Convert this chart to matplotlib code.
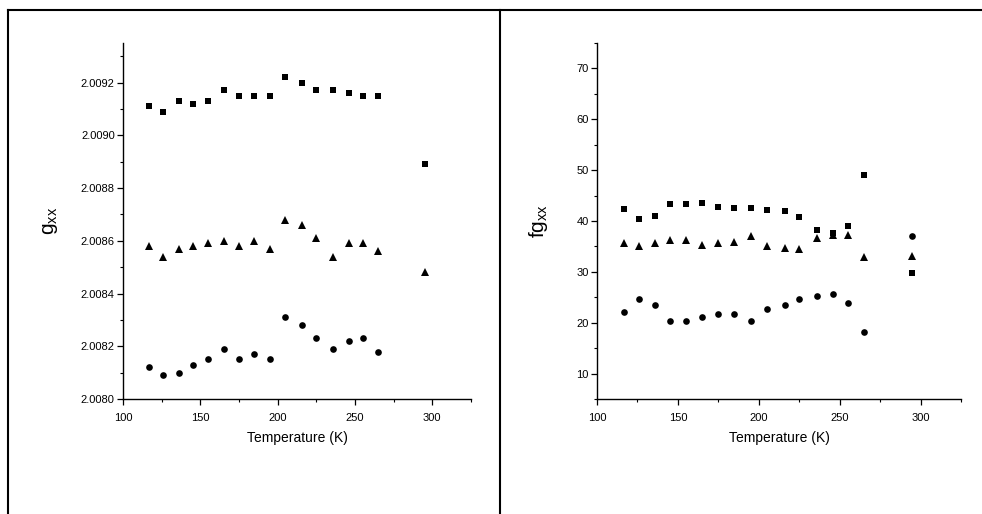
import numpy as np
import matplotlib
matplotlib.use("Agg")
import matplotlib.pyplot as plt
from matplotlib.lines import Line2D
from matplotlib.ticker import MultipleLocator, FormatStrFormatter

plt.rcParams['font.family'] = ['Liberation Sans', 'DejaVu Sans']

# temperatures (K)
temp = [117, 126, 136, 145, 155, 165, 175, 185, 195, 205, 216, 225, 236, 246, 255, 265, 295]

# g_xx
gxx_sq = [2.00911, 2.00909, 2.00913, 2.00912, 2.00913, 2.00917, 2.00915, 2.00915, 2.00915,
          2.00922, 2.00920, 2.00917, 2.00917, 2.00916, 2.00915, 2.00915, 2.00889]
gxx_tri = [2.00858, 2.00854, 2.00857, 2.00858, 2.00859, 2.00860, 2.00858, 2.00860, 2.00857,
           2.00868, 2.00866, 2.00861, 2.00854, 2.00859, 2.00859, 2.00856, 2.00848]
gxx_circ = [2.00812, 2.00809, 2.00810, 2.00813, 2.00815, 2.00819, 2.00815, 2.00817, 2.00815,
            2.00831, 2.00828, 2.00823, 2.00819, 2.00822, 2.00823, 2.00818]

# fg_xx
fg_sq = [42.3, 40.4, 41.0, 43.4, 43.4, 43.6, 42.7, 42.5, 42.5, 42.2, 41.9, 40.8, 38.3, 37.6, 39.1, 49.1, 29.7]
fg_tri = [35.7, 35.1, 35.6, 36.2, 36.2, 35.3, 35.6, 35.8, 37.1, 35.1, 34.7, 34.5, 36.6, 37.3, 37.2, 32.9, 33.2]
fg_circ = [22.1, 24.6, 23.5, 20.4, 20.4, 21.2, 21.7, 21.7, 20.4, 22.7, 23.4, 24.7, 25.2, 25.6, 23.8, 18.1, 37.1]


def style_axis(ax):
    ax.spines['top'].set_visible(False)
    ax.spines['right'].set_visible(False)
    ax.spines['left'].set_linewidth(1.0)
    ax.spines['bottom'].set_linewidth(1.0)
    ax.tick_params(which='major', direction='out', length=4, width=0.9, labelsize=8)
    ax.tick_params(which='minor', direction='out', length=2.5, width=0.8)
    ax.tick_params(axis='x', which='major', pad=6)
    ax.tick_params(axis='y', which='major', pad=2)
    ax.set_xlim(100, 325)
    ax.xaxis.set_major_locator(MultipleLocator(50))
    ax.xaxis.set_minor_locator(MultipleLocator(25))
    ax.set_xlabel('Temperature (K)', fontsize=10, labelpad=6)


fig = plt.figure(figsize=(9.82, 5.14), dpi=100)

ax1 = fig.add_axes([0.1253, 0.2237, 0.3543, 0.6926])
ax1.plot(temp, gxx_sq, 's', color='black', ms=4.2, mew=0)
ax1.plot(temp, gxx_tri, '^', color='black', ms=5.2, mew=0)
ax1.plot(temp[:len(gxx_circ)], gxx_circ, 'o', color='black', ms=4.8, mew=0)
style_axis(ax1)
ax1.set_ylim(2.0080, 2.00935)
ax1.yaxis.set_major_locator(MultipleLocator(0.0002))
ax1.yaxis.set_minor_locator(MultipleLocator(0.0001))
ax1.yaxis.set_major_formatter(FormatStrFormatter('%.4f'))
ax1.set_ylabel(r'g$_{\mathregular{xx}}$', fontsize=15, labelpad=15)

ax2 = fig.add_axes([0.6079, 0.2237, 0.3707, 0.6926])
ax2.plot(temp, fg_sq, 's', color='black', ms=4.2, mew=0)
ax2.plot(temp, fg_tri, '^', color='black', ms=5.2, mew=0)
ax2.plot(temp, fg_circ, 'o', color='black', ms=4.8, mew=0)
style_axis(ax2)
ax2.set_ylim(5, 75)
ax2.yaxis.set_major_locator(MultipleLocator(10))
ax2.yaxis.set_minor_locator(MultipleLocator(5))
ax2.set_yticks([10, 20, 30, 40, 50, 60, 70])
ax2.set_ylabel(r'fg$_{\mathregular{xx}}$', fontsize=15, labelpad=19)

# outer frame lines
fig.add_artist(Line2D([8 / 982, 1], [1 - 10 / 514, 1 - 10 / 514], color='black', lw=1.5,
                      transform=fig.transFigure))
fig.add_artist(Line2D([8 / 982, 8 / 982], [0, 1 - 10 / 514], color='black', lw=1.5,
                      transform=fig.transFigure))
fig.add_artist(Line2D([500 / 982, 500 / 982], [0, 1 - 10 / 514], color='black', lw=1.5,
                      transform=fig.transFigure))

fig.savefig('out.png', dpi=100)
